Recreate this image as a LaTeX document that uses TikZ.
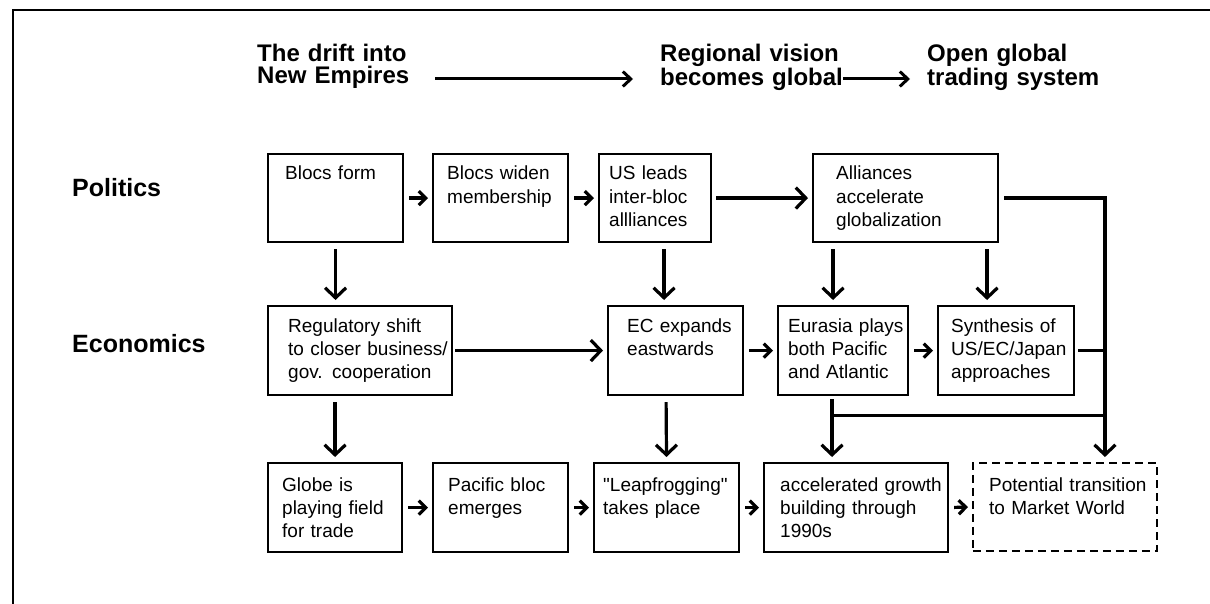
\documentclass[tikz,border=0pt]{standalone}
\usepackage{fontspec}
\setmainfont{Liberation Sans}[Ligatures=TeXOff]
\usetikzlibrary{arrows.meta,calc}
\begin{document}
\begin{tikzpicture}[x=1pt,y=-1pt,
  box/.style={draw, line width=2.1pt, anchor=north west, inner sep=0pt},
  dbox/.style={box, line width=1.9pt, dash pattern=on 8pt off 5pt},
  txt/.style={anchor=base west, inner sep=0pt, align=left, text width=220pt,
    font=\fontsize{19}{23.3}\selectfont},
  ttl/.style={anchor=base west, inner sep=0pt, align=left, text width=240pt,
    font=\fontsize{24}{22}\selectfont\bfseries},
  lab/.style={anchor=base west, inner sep=0pt, font=\fontsize{25}{28}\selectfont\bfseries},
  conn/.style={line width=3.2pt},
  arr/.style={conn, -{Straight Barb[length=10pt,width=21pt]}, shorten <=6pt, shorten >=5pt},
  sarr/.style={conn, -{Straight Barb[length=7pt,width=14pt]}, shorten <=5pt, shorten >=4pt},
  tarr/.style={conn, line width=3pt, -{Straight Barb[length=8pt,width=15pt]}},
  frame/.style={line width=2.6pt}
]
\useasboundingbox (0,0) rectangle (1210,604);
% frame (top and left edges)
\coordinate (F0) at (13,604);
\coordinate (F1) at (13,10);
\coordinate (F2) at (1210,10);
\draw[frame] (F0) -- (F1) -- (F2);

% titles
\node[ttl] (T1) at (257,62) {The drift into\\New Empires};
\node[ttl] (T2) at (660,62) {Regional vision\\becomes global};
\node[ttl] (T3) at (927,62) {Open global\\trading system};
\draw[tarr] ([xshift=178pt,yshift=-17pt]T1.base west) -- ([xshift=-27pt,yshift=-17pt]T2.base west);
\draw[tarr] ([xshift=183pt,yshift=-17pt]T2.base west) -- ([xshift=-17pt,yshift=-17pt]T3.base west);

% row labels
\node[lab] (P) at (72,197) {Politics};
\node[lab] (E) at (72,352) {Economics};

% row 1: politics
\node[box, minimum width=135pt, minimum height=88pt] (A1) at (267,153) {};
\node[box, minimum width=135pt, minimum height=88pt] (A2) at (432,153) {};
\node[box, minimum width=112pt, minimum height=88pt] (A3) at (598,153) {};
\node[box, minimum width=185pt, minimum height=88pt] (A4) at (812,153) {};
\node[txt] (A1t) at (285,180) {Blocs form};
\node[txt] (A2t) at (447,180) {Blocs widen\\membership};
\node[txt] (A3t) at (609,180) {US leads\\inter-bloc\\allliances};
\node[txt] (A4t) at (836,180) {Alliances\\accelerate\\globalization};

% row 2: economics
\node[box, minimum width=184pt, minimum height=89pt] (B1) at (267,305) {};
\node[box, minimum width=135pt, minimum height=89pt] (B2) at (607,305) {};
\node[box, minimum width=130pt, minimum height=89pt] (B3) at (777,305) {};
\node[box, minimum width=136pt, minimum height=89pt] (B4) at (937,305) {};
\node[txt] (B1t) at (288,332) {Regulatory shift\\to closer business/\\gov. cooperation};
\node[txt] (B2t) at (627,332) {EC expands\\eastwards};
\node[txt] (B3t) at (788,332) {Eurasia plays\\both Pacific\\and Atlantic};
\node[txt] (B4t) at (951,332) {Synthesis of\\US/EC/Japan\\approaches};

% row 3
\node[box, minimum width=134pt, minimum height=89pt] (C1) at (267,462) {};
\node[box, minimum width=135pt, minimum height=89pt] (C2) at (432,462) {};
\node[box, minimum width=145pt, minimum height=89pt] (C3) at (593,462) {};
\node[box, minimum width=184pt, minimum height=89pt] (C4) at (763,462) {};
\node[dbox, minimum width=184pt, minimum height=88pt] (C5) at (972,462) {};
\node[txt] (C1t) at (282,491) {Globe is\\playing field\\for trade};
\node[txt] (C2t) at (448,491) {Pacific bloc\\emerges};
\node[txt] (C3t) at (603,491) {"Leapfrogging"\\takes place};
\node[txt] (C4t) at (780,491) {accelerated growth\\building through\\1990s};
\node[txt] (C5t) at (989,491) {Potential transition\\to Market World};

% horizontal arrows
\draw[sarr] (A1.east) -- (A2.west);
\draw[sarr] (A2.east) -- (A3.west);
\draw[arr, shorten <=4pt, shorten >=4pt] (A3.east) -- (A4.west);
\draw[arr, shorten <=2pt, shorten >=4pt] (B1.east) -- (B2.west);
\draw[sarr] (B2.east) -- (B3.west);
\draw[sarr] (B3.east) -- (B4.west);
\draw[sarr] (C1.east) -- (C2.west);
\draw[sarr] (C2.east) -- (C3.west);
\draw[sarr] (C3.east) -- (C4.west);
\draw[sarr] (C4.east) -- (C5.west);

% vertical arrows
\draw[arr] (A1.south) -- (A1.south |- B1.north);
\draw[arr] (B1.south -| C1.north) -- (C1.north);
\draw[arr] ([xshift=9pt]A3.south) -- ([xshift=-11.5pt]B2.north);
\draw[arr] ([xshift=-9.5pt]B2.south) -- (C3.north);
\draw[arr] ([xshift=-72.5pt]A4.south) -- ([xshift=-10pt]B3.north);
\draw[arr] ([xshift=81.5pt]A4.south) -- ([xshift=-19pt]B4.north);

% merging lines on the right
\coordinate (J) at ([xshift=40pt]C5.north);
\coordinate (K) at ([xshift=-24pt]C4.north);
\coordinate (M) at ([yshift=-19pt]B3.south);
\draw[conn, -{Straight Barb[length=10pt,width=21pt]}, shorten <=5pt, shorten >=5pt] (A4.east) -| (J);
\draw[conn, shorten <=3pt] (B4.east) -- (B4.east -| J);
\draw[arr, shorten <=3pt] ([xshift=-11pt]B3.south) -- (K);
\draw[conn] (M -| K) -- (M -| J);
\end{tikzpicture}
\end{document}
